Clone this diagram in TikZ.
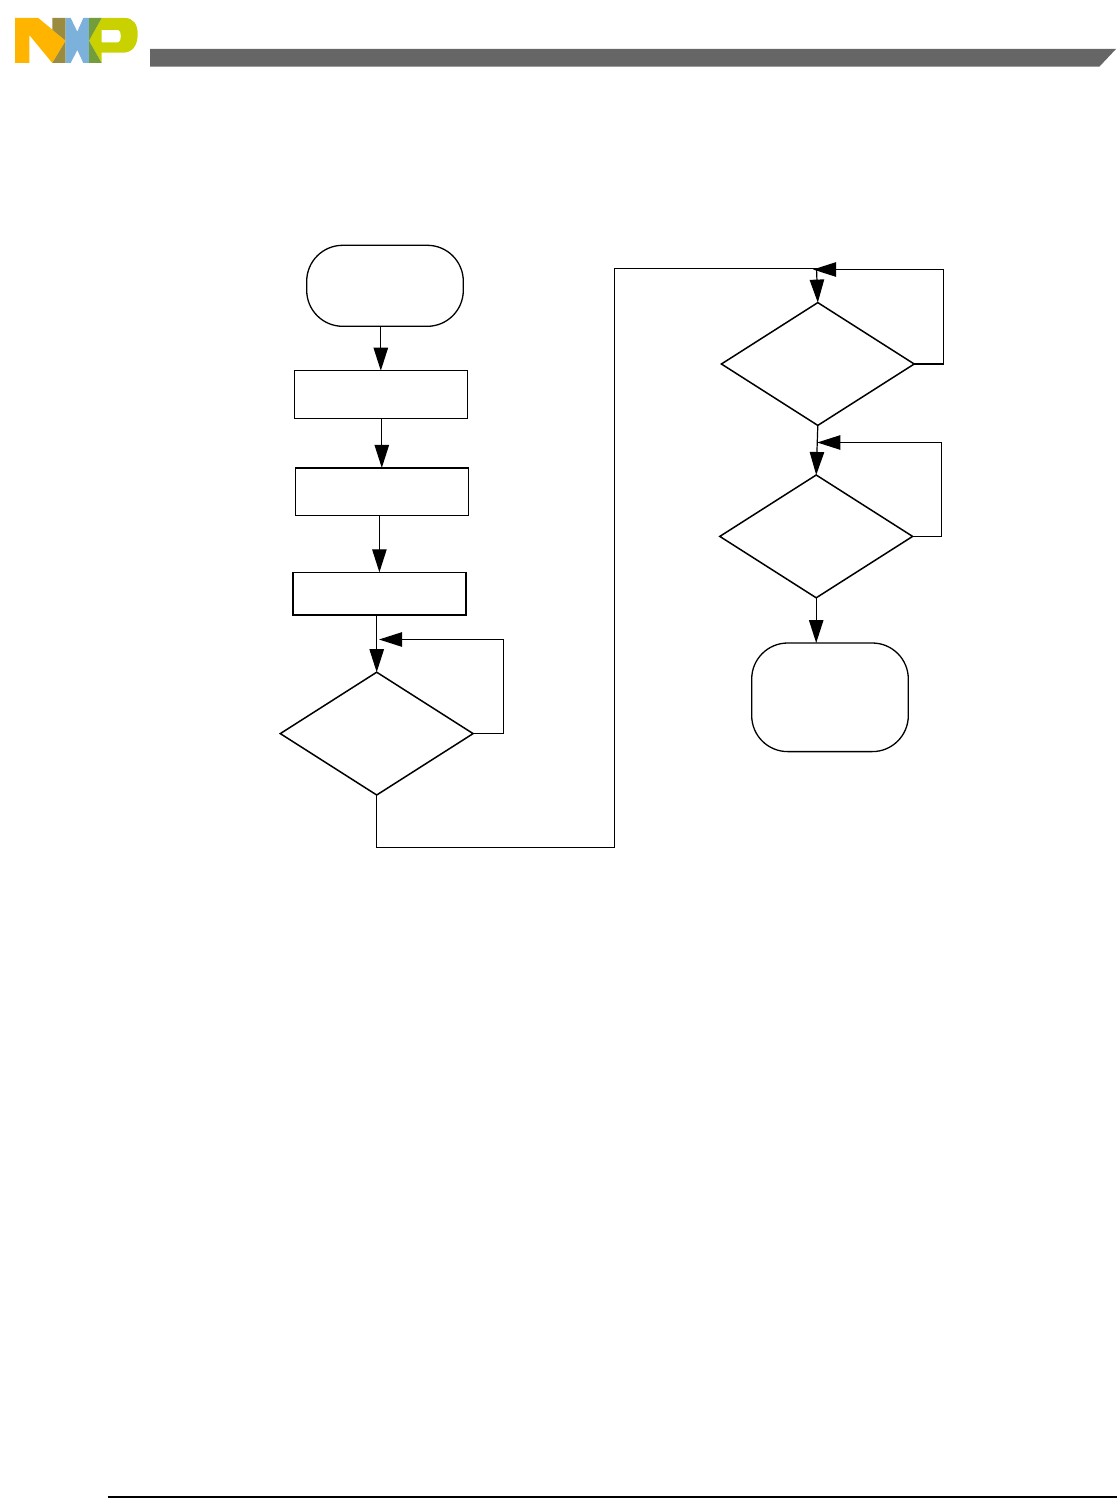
\documentclass[tikz,border=0pt]{standalone}
\usepackage{tikz}
\usetikzlibrary{arrows.meta,positioning,shapes.geometric}
\definecolor{nxpyellow}{HTML}{FFB500}
\definecolor{nxpolive}{HTML}{9B8B3E}
\definecolor{nxpblue}{HTML}{7BB1DB}
\definecolor{nxplime}{HTML}{C9D200}
\definecolor{nxpgreen}{HTML}{739C3A}
\definecolor{bandgray}{HTML}{666666}
\tikzset{
  every node/.style={line width=0.65pt,outer sep=0pt,inner sep=0pt},
  stepbox/.style={draw,rectangle,minimum width=86.5pt,minimum height=23.8pt},
  decision/.style={draw,diamond,line width=0.75pt,minimum width=96.4pt,minimum height=61.4pt},
  terminal/.style={draw,rectangle,rounded corners=18pt,minimum width=78.3pt},
  flow/.style={line width=0.6pt,-{Triangle[length=11.5pt,width=7.2pt]}},
  wire/.style={line width=0.6pt}
}
\begin{document}
\begin{tikzpicture}[x=0.5pt,y=-0.5pt]
  \useasboundingbox (0,0) rectangle (1117,1498);
  % page header band
  \fill[bandgray] (150,49) -- (1116,49) -- (1099.3,66.7) -- (150,66.7) -- cycle;
  % logo
  \fill[nxpyellow] (15,18) -- (38.3,18) -- (65.7,40.7) -- (52.3,63) -- (29.3,35) -- (29.3,63) -- (15,63) -- cycle;
  \fill[nxpolive] (52.3,18) -- (65.7,18) -- (65.7,40.7) -- (52.3,29.7) -- cycle;
  \fill[nxpolive] (52.3,63) -- (65.7,40.7) -- (65.7,63) -- cycle;
  \fill[nxpblue] (65.7,18) -- (70.7,18) -- (77.3,31.7) -- (83.3,18) -- (89,18) -- (89,63) -- (83.3,63) -- (77.3,50) -- (70.7,63) -- (65.7,63) -- cycle;
  \fill[nxplime,even odd rule] (89,40.7) -- (101.7,18) -- (125,18) .. controls (133,18) and (137.7,24) .. (137.7,34) .. controls (137.7,46) and (132,52.7) .. (123,52.7) -- (101.7,52.7) -- (101.7,63) -- cycle
    (101.7,30) -- (118.3,30) .. controls (121.7,30) and (121.7,42.3) .. (118.3,42.3) -- (101.7,42.3) -- cycle;
  \fill[nxpgreen] (89,18) -- (101.7,18) -- (89,40.7) -- cycle;
  \fill[nxpgreen] (89,40.7) -- (101.7,63) -- (89,63) -- cycle;
  % left column
  \node[terminal,minimum height=40.5pt] (start) at (385,285.8) {};
  \node[stepbox] (boxa) at (380.8,394.5) {};
  \node[stepbox] (boxb) at (381.8,491.7) {};
  \node[stepbox,minimum height=21.4pt,line width=0.8pt] (boxc) at (379.4,593.7) {};
  \node[decision] (deca) at (376.7,733.6) {};
  % right column
  \node[decision] (decb) at (817.8,364) {};
  \node[decision] (decc) at (816.2,536.4) {};
  \node[terminal,minimum height=54.3pt] (finish) at (830,697.3) {};
  % loop corners and joins
  \coordinate (loopa) at (503.5,639.5);
  \coordinate (tipa) at (379,639.5);
  \coordinate (corna) at (614.5,847.5);
  \coordinate (cornb) at (614.5,268.5);
  \coordinate (joinb) at (816.5,268.5);
  \coordinate (loopb) at (943.5,269.5);
  \coordinate (tipb) at (813,269.5);
  \coordinate (loopc) at (941.5,442.5);
  \coordinate (tipc) at (817.3,442.5);
  % connectors
  \draw[flow] (start.south -| boxa.north) -- (boxa.north);
  \draw[flow] (boxa.south -| boxb.north) -- (boxb.north);
  \draw[flow] (boxb.south -| boxc.north) -- (boxc.north);
  \draw[flow] (boxc.south -| deca.north) -- (deca.north);
  \draw[flow] (deca.east) -| (loopa) -- (tipa);
  \draw[wire] (deca.south) |- (corna) -- (cornb) -- (joinb);
  \draw[flow] (joinb) -- (decb.north);
  \draw[flow] (decb.east) -| (loopb) -- (tipb);
  \draw[flow] (decb.south) -- (decc.north);
  \draw[flow] (decc.east) -| (loopc) -- (tipc);
  \draw[flow] (decc.south) -- (decc.south |- finish.north);
  % page foot rule
  \coordinate (rulea) at (107.7,1497);
  \coordinate (ruleb) at (1117,1497);
  \draw[wire] (rulea) -- (ruleb);
\end{tikzpicture}
\end{document}
